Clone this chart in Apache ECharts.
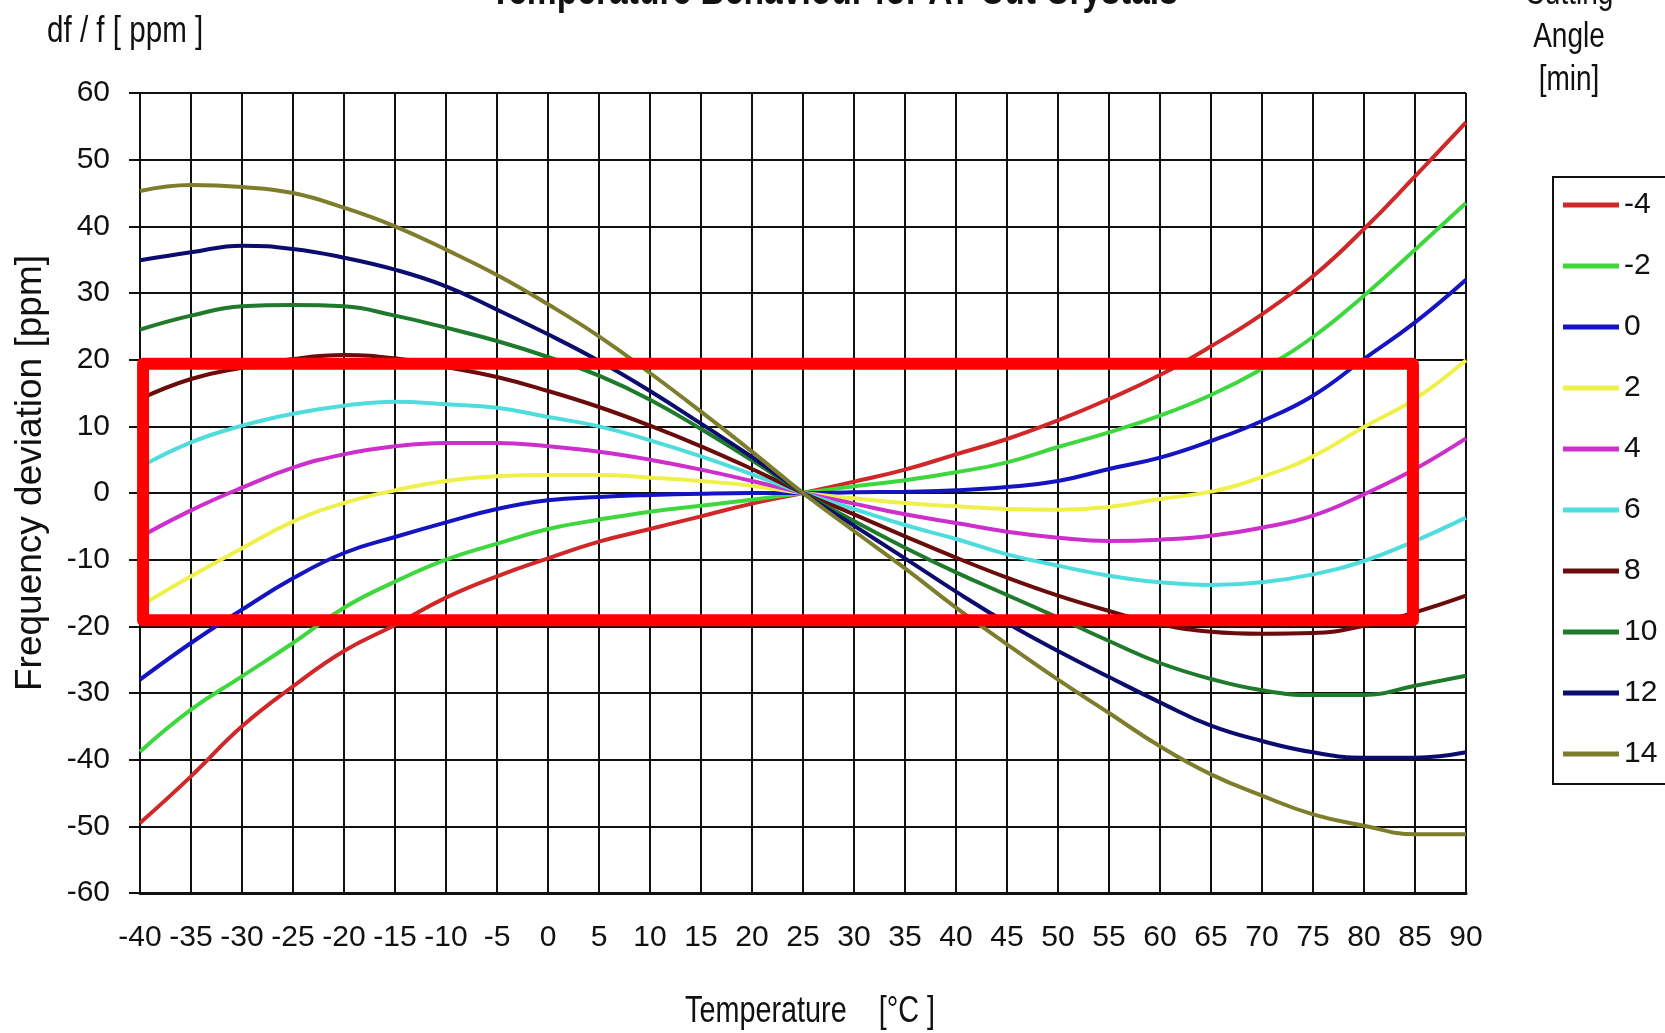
<!DOCTYPE html>
<html><head><meta charset="utf-8">
<script src="https://cdn.jsdelivr.net/npm/echarts@6/dist/echarts.min.js"></script>
<style>html,body{margin:0;padding:0;background:#fff}#c{width:1665px;height:1033px}</style>
</head><body><div id="c"></div>
<script>
// Temperature [°C]
const temps = [-40,-35,-30,-25,-20,-15,-10,-5,0,5,10,15,20,25,30,35,40,45,50,55,60,65,70,75,80,85,90];
// Cutting angle [min] -> frequency deviation [ppm]
const cutM4  = [-49.5,-42.5,-35.0,-29.0,-23.7,-19.8,-15.7,-12.5,-9.8,-7.3,-5.4,-3.5,-1.6,0,1.7,3.5,5.8,8.1,10.9,14.1,17.7,22.0,26.8,32.5,39.6,47.5,55.6];
const cutM2  = [-38.8,-32.5,-27.5,-22.5,-17.2,-13.3,-10.0,-7.6,-5.4,-4.0,-2.8,-1.9,-1.0,0,1.0,1.9,3.1,4.6,6.9,9.1,11.6,14.7,18.6,23.4,29.6,36.5,43.5];
const cut0   = [-28.0,-22.5,-17.5,-12.8,-9.0,-6.6,-4.4,-2.4,-1.1,-0.6,-0.3,-0.1,0,0,0.1,0.2,0.4,0.9,1.8,3.6,5.3,7.8,10.8,14.6,20.1,25.6,32.0];
const cut2   = [-17.0,-12.5,-8.3,-4.3,-1.5,0.4,1.8,2.5,2.7,2.7,2.3,1.8,1.1,0,-0.8,-1.5,-2.0,-2.4,-2.5,-2.1,-0.9,0.2,2.4,5.5,9.9,14.1,19.9];
const cut4   = [-6.6,-2.6,0.8,3.8,5.8,7.0,7.5,7.5,7.0,6.2,5.0,3.5,1.8,0,-1.6,-3.2,-4.5,-5.8,-6.7,-7.2,-7.0,-6.4,-5.2,-3.4,-0.2,3.6,8.2];
const cut6   = [3.9,7.6,10.1,11.9,13.1,13.7,13.3,12.8,11.4,10.0,7.9,5.5,2.8,0,-2.4,-4.8,-6.9,-9.2,-10.9,-12.4,-13.4,-13.8,-13.4,-12.2,-10.2,-7.2,-3.7];
const cut8   = [14.1,17.1,18.8,20.1,20.7,20.2,18.9,17.4,15.3,12.9,10.1,7.0,3.6,0,-3.2,-6.5,-9.7,-12.7,-15.4,-17.7,-19.7,-20.8,-21.1,-21.0,-19.9,-17.9,-15.4];
const cut10  = [24.5,26.6,28.0,28.2,28.0,26.6,24.8,22.8,20.4,17.6,14.0,9.6,4.9,0,-4.2,-8.2,-11.9,-15.3,-18.7,-22.2,-25.5,-27.9,-29.6,-30.3,-30.3,-28.9,-27.4];
const cut12  = [34.9,36.1,37.1,36.6,35.3,33.5,31.0,27.5,23.8,19.8,15.3,10.4,5.4,0,-4.9,-9.8,-14.8,-19.5,-23.7,-27.6,-31.4,-34.9,-37.2,-38.9,-39.7,-39.7,-38.9];
const cut14  = [45.3,46.2,45.9,45.0,42.8,40.0,36.5,32.7,28.3,23.5,18.0,12.2,6.2,0,-5.7,-11.3,-17.2,-22.7,-28.0,-33.0,-38.0,-42.2,-45.4,-48.2,-49.9,-51.2,-51.2];
const seriesNames = ['-4','-2','0','2','4','6','8','10','12','14'];
const seriesValues = [cutM4,cutM2,cut0,cut2,cut4,cut6,cut8,cut10,cut12,cut14];
const seriesColors = ['#d02828','#3ed83e','#1414c0','#f0f04a','#cc2fcc','#4fdcdc','#6a0c0c','#1f7a2c','#0c0c6e','#7d7d2c'];
// highlighted window: temperature range and ppm band
const boxTemps = [-39.7, 84.8];
const boxPpm = [19.4, -19.1];
// axis ticks
const xMin = -40, xMax = 90, xStep = 5;
const yMin = -60, yMax = 60, yStep = 10;

const REG = '"Liberation Sans",Arial,sans-serif';
const NX = 0.8; // horizontal squeeze for the narrow-looking captions

const chart = echarts.init(document.getElementById('c'), null, {renderer:'canvas'});

const series = seriesNames.map((n,i)=>({
  name:n, type:'line', smooth:0.45, symbol:'none', showSymbol:false,
  data: temps.map((t,k)=>[t, seriesValues[i][k]]),
  lineStyle:{color:seriesColors[i], width:4},
  itemStyle:{color:seriesColors[i]},
  z:3, animation:false
}));
const boxData = [
  [boxTemps[0],boxPpm[0]],[boxTemps[1],boxPpm[0]],[boxTemps[1],boxPpm[1]],[boxTemps[0],boxPpm[1]],[boxTemps[0],boxPpm[0]]
];
series.push({
  name:'box', type:'line', symbol:'none', data:boxData, clip:false,
  lineStyle:{color:'#ff0000', width:12, join:'round', cap:'round'},
  z:6, animation:false, silent:true
});

function cap(text, x, y, size, opts){
  return Object.assign({type:'text', x:x, y:y, scaleX:NX, scaleY:1,
    style:{text:text, fontSize:size, fontFamily:REG, fill:'#111', align:'center', verticalAlign:'middle'}}, opts||{});
}

chart.setOption({
  animation:false,
  backgroundColor:'#ffffff',
  grid:{left:140, top:93, width:1326, height:800, containLabel:false},
  xAxis:{
    type:'value', min:xMin, max:xMax, interval:xStep,
    axisLine:{show:true, onZero:false, lineStyle:{color:'#111', width:3}},
    axisTick:{show:false},
    axisLabel:{margin:30, fontSize:30, fontFamily:REG, color:'#111'},
    splitLine:{show:true, lineStyle:{color:'#111', width:2}}
  },
  yAxis:{
    type:'value', min:yMin, max:yMax, interval:yStep,
    axisLine:{show:true, onZero:false, lineStyle:{color:'#111', width:2}},
    axisTick:{show:true, length:11, lineStyle:{color:'#111', width:2}},
    axisLabel:{margin:30, fontSize:30, fontFamily:REG, color:'#111'},
    splitLine:{show:true, lineStyle:{color:'#111', width:2}}
  },
  legend:{
    data:seriesNames, orient:'vertical', left:1553, top:177,
    padding:[13,45,15,10], itemGap:31, itemWidth:56, itemHeight:5, icon:'rect',
    borderColor:'#111', borderWidth:2, backgroundColor:'#fff',
    textStyle:{fontSize:30, fontFamily:REG, color:'#111'},
    selectedMode:false
  },
  graphic:[
    cap('Temperature Behaviour for AT-Cut Crystals', 834, 13, 42, {style:{text:'Temperature Behaviour for AT-Cut Crystals', fontSize:42, fontWeight:'bold', fontFamily:REG, fill:'#111', align:'center', verticalAlign:'bottom'}}),
    cap('Cutting', 1569, -6, 35),
    cap('Angle', 1569, 37, 35),
    cap('[min]', 1569, 80, 35),
    cap('df / f [ ppm ]', 47, 32, 37, {style:{text:'df / f [ ppm ]', fontSize:37, fontFamily:REG, fill:'#111', align:'left', verticalAlign:'middle'}}),
    {type:'text', x:31, y:473, rotation:Math.PI/2, style:{text:'Frequency deviation [ppm]', fontSize:37, fontFamily:REG, fill:'#111', align:'center', verticalAlign:'middle'}},
    cap('Temperature    [°C ]', 810, 1012, 36)
  ],
  series:series
});
</script></body></html>
